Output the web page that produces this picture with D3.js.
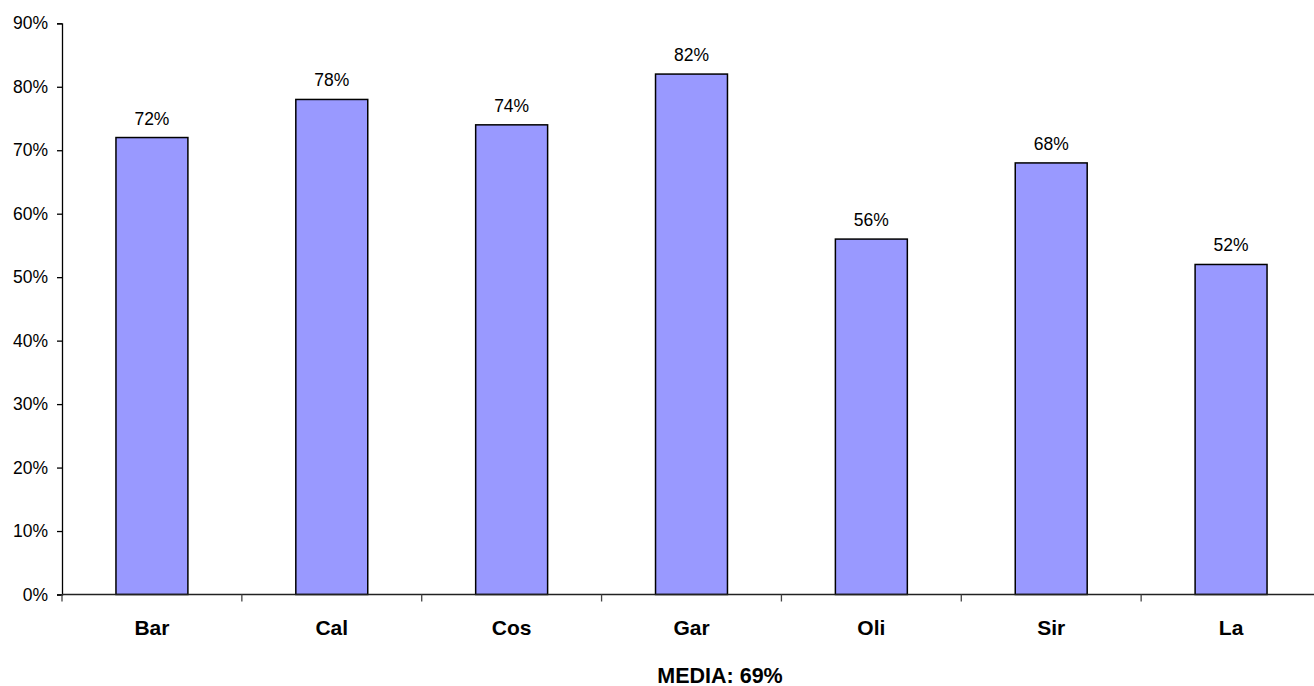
<!DOCTYPE html>
<html>
<head>
<meta charset="utf-8">
<script src="https://cdn.jsdelivr.net/npm/d3@7"></script>
<style>
  html, body { margin: 0; padding: 0; background: #fff; }
  svg { display: block; }
  text { font-family: Arial, "Liberation Sans", sans-serif; }
</style>
</head>
<body>
<svg id="chart" width="1314" height="686"></svg>
<script>
const categories = ["Bar", "Cal", "Cos", "Gar", "Oli", "Sir", "La"];
const values = [72, 78, 74, 82, 56, 68, 52];
const yTicks = [0, 10, 20, 30, 40, 50, 60, 70, 80, 90];
const footnote = "MEDIA: 69%";

const svg = d3.select("#chart");
const plotLeft = 62, plotRight = 1321, plotTop = 23.3, plotBottom = 594.5;

const x = d3.scaleBand().domain(categories).range([plotLeft, plotRight]).paddingInner(0.6).paddingOuter(0.3);
const xb = d3.scaleBand().domain(categories).range([plotLeft, plotRight]);
const y = d3.scaleLinear().domain([0, 90]).range([plotBottom, plotTop]);

// Bars
svg.append("g").selectAll("rect")
  .data(categories)
  .join("rect")
  .attr("x", d => x(d))
  .attr("y", (d, i) => y(values[i]))
  .attr("width", x.bandwidth())
  .attr("height", (d, i) => y(0) - y(values[i]))
  .attr("fill", "#9999FF")
  .attr("stroke", "#000")
  .attr("stroke-width", 1.5);

// Value labels
svg.append("g").selectAll("text")
  .data(categories)
  .join("text")
  .attr("x", d => x(d) + x.bandwidth() / 2)
  .attr("y", (d, i) => y(values[i]) - 13)
  .attr("text-anchor", "middle")
  .attr("font-size", 17.5)
  .attr("fill", "#000")
  .text((d, i) => values[i] + "%");

// Y axis
const yAxis = d3.axisLeft(y).tickValues(yTicks).tickFormat(d => d + "%").tickSize(5).tickPadding(9);
const gy = svg.append("g").attr("transform", `translate(${plotLeft},0)`).call(yAxis);
gy.select(".domain").attr("stroke", "#000").attr("stroke-width", 1.3);
gy.selectAll(".tick line").attr("stroke", "#000").attr("stroke-width", 1.3);
gy.selectAll(".tick text").attr("font-size", 17.5).attr("fill", "#000")
  .attr("font-family", "Arial, 'Liberation Sans', sans-serif");

// X axis: ticks at band boundaries
const boundaries = categories.map(c => xb(c));
const gx = svg.append("g").attr("transform", `translate(0,${plotBottom})`);
gx.append("line").attr("x1", plotLeft).attr("x2", plotRight).attr("y1", 0).attr("y2", 0)
  .attr("stroke", "#222").attr("stroke-width", 1.3);
gx.selectAll("line.tk").data(boundaries).join("line").attr("class", "tk")
  .attr("x1", d => d).attr("x2", d => d).attr("y1", 0).attr("y2", 7)
  .attr("stroke", "#444").attr("stroke-width", 1.3);
gx.selectAll("text").data(categories).join("text")
  .attr("x", d => xb(d) + xb.bandwidth() / 2)
  .attr("y", 635 - plotBottom)
  .attr("text-anchor", "middle")
  .attr("font-size", 21)
  .attr("font-weight", "bold")
  .attr("fill", "#000")
  .text(d => d);

// Footnote
svg.append("text")
  .attr("x", 720)
  .attr("y", 683)
  .attr("text-anchor", "middle")
  .attr("font-size", 21.5)
  .attr("font-weight", "bold")
  .attr("fill", "#000")
  .text(footnote);
</script>
</body>
</html>
